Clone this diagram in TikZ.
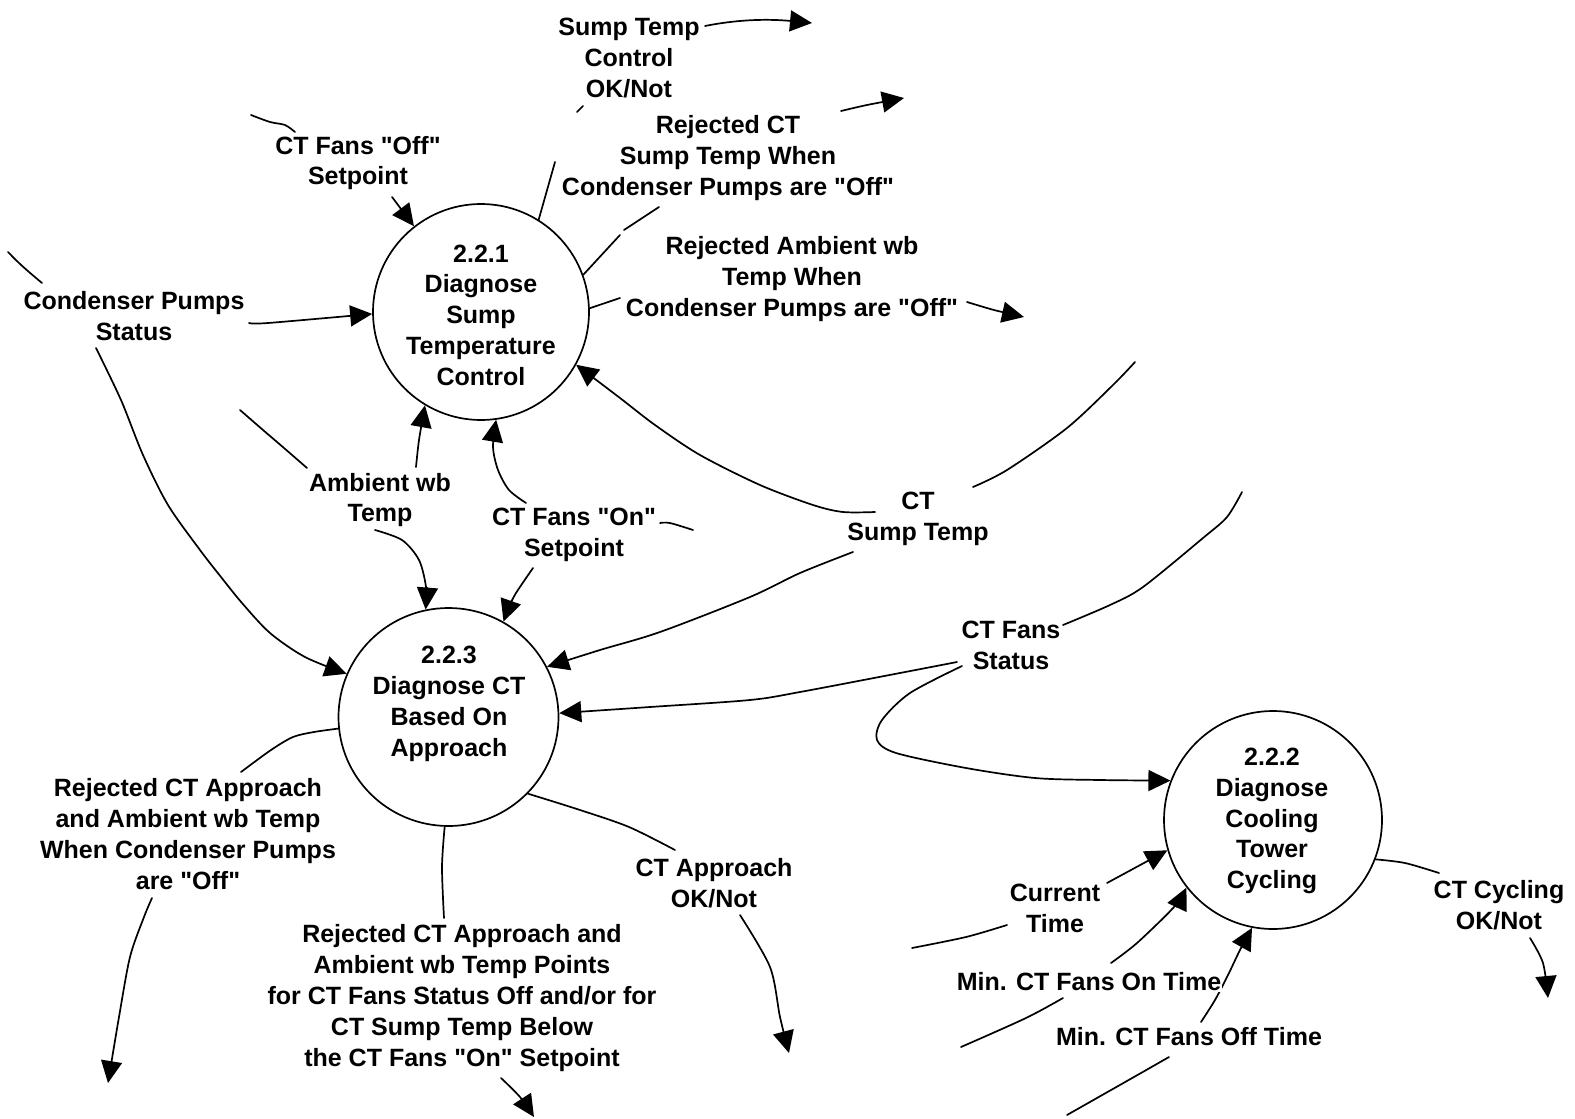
\documentclass[tikz,border=0pt]{standalone}
\usepackage{fontspec}
\setmainfont{Liberation Sans}[Ligatures=TeXOff]
\usetikzlibrary{arrows.meta,shapes.geometric}
\begin{document}
\begin{tikzpicture}[x=1pt,y=-1pt,
  ln/.style={line width=1.7pt, line join=round, line cap=round},
  arr/.style={ln, -{Triangle[length=22pt,width=21pt]}},
  proc/.style={draw, ellipse, line width=1.7pt, inner sep=0pt},
  lbl/.style={font=\fontsize{25}{30.8}\selectfont\bfseries, align=center, inner sep=0pt}]
\useasboundingbox (0,0) rectangle (1575,1119);
\fill[white] (0,0) rectangle (1575,1119);

% processes
\node[proc, minimum width=216pt, minimum height=216pt] (c1) at (481,312) {};
\node[proc, minimum width=220pt, minimum height=218pt] (c3) at (448.5,717) {};
\node[proc, minimum width=218pt, minimum height=218pt] (c2) at (1273,820) {};
\node[lbl] (t1) at (481,315) {2.2.1\\Diagnose\\Sump\\Temperature\\Control};
\node[lbl] (t3) at (449,704) {2.2.3\\Diagnose CT\\Based On\\Approach};
\node[lbl] (t2) at (1272,821) {2.2.2\\Diagnose\\Cooling\\Tower\\Cycling};

% labels
\node[lbl] (stc) at (629,58) {Sump Temp\\Control\\OK/Not};
\node[lbl] (off) at (358,163) {CT Fans "Off"\\Setpoint};
\node[lbl] (cps) at (134,316) {Condenser Pumps\\Status};
\node[lbl] (rcs) at (728,158) {Rejected CT\\Sump Temp When\\Condenser Pumps are "Off"};
\node[lbl] (rab) at (792,279) {Rejected Ambient wb\\Temp When\\Condenser Pumps are "Off"};
\node[lbl] (awb) at (380,500) {Ambient wb\\Temp};
\node[lbl] (on) at (574,535) {CT Fans "On"\\Setpoint};
\node[lbl] (cst) at (918,519) {CT\\Sump Temp};
\node[lbl] (cfs) at (1011,645) {CT Fans\\Status};
\node[lbl] (rca) at (188,834) {Rejected CT Approach\\and Ambient wb Temp\\When Condenser Pumps\\are "Off"};
\node[lbl] (rcb) at (462,998) {Rejected CT Approach and\\Ambient wb Temp Points\\for CT Fans Status Off and/or for\\CT Sump Temp Below\\the CT Fans "On" Setpoint};
\node[lbl] (cta) at (714,883) {CT Approach\\OK/Not};
\node[lbl] (cur) at (1055,908) {Current\\Time};
\node[lbl] (moff) at (1189,1037) {Min. CT Fans Off Time};
\node[lbl] (ccy) at (1499,905) {CT Cycling\\OK/Not};

% Sump Temp Control OK/Not
\coordinate (stcA) at (555,162);
\draw[ln] (c1.58.8) -- (stcA);
\coordinate (stcB) at (577,112); \coordinate (stcC) at (583,106);
\draw[ln] (stcB) -- (stcC);
\coordinate (stcD) at (705,26); \coordinate (stcE) at (812,23);
\draw[arr] (stcD) .. controls (740,19) and (770,19) .. (stcE);

% CT Fans Off setpoint
\draw[ln] plot[smooth] coordinates {(251,115) (270,122) (285,125) (295,132)};
\coordinate (offA) at (392,197);
\draw[arr] (offA) -- (c1.128);

% Condenser Pumps Status
\draw[ln] plot[smooth] coordinates {(8,252) (19,263) (29,272) (42,283)};
\draw[arr] plot[smooth] coordinates {(249,323) (268,323) (c1.181.6)};
\draw[arr] plot[smooth] coordinates {(96,348) (121,400) (143,455) (168,505) (200,550) (221,577) (242,603) (270,633) (305,657) (c3.157)};

% Rejected CT Sump Temp
\draw[ln] (c1.20) -- (620,235);
\draw[ln] (624,230) -- (659,207);
\draw[arr] plot[smooth] coordinates {(841,111) (867,105) (904,98)};

% Rejected Ambient wb
\draw[ln] (c1.2.6) -- (620,298);
\draw[arr] plot[smooth] coordinates {(967,302) (994,310) (1024,317)};

% Ambient wb Temp
\draw[ln] plot[smooth] coordinates {(240,410) (263,430) (284,448) (307,468)};
\draw[arr] plot[smooth] coordinates {(416,467) (419,440) (c1.239)};
\draw[arr] plot[smooth] coordinates {(375,530) (402,540) (419,560) (426,587) (c3.102)};

% CT Fans On setpoint
\draw[arr] plot[smooth] coordinates {(526,503) (509,490) (498,470) (493,447) (c1.-82)};
\draw[ln] plot[smooth] coordinates {(660,523) (670,523) (693,530)};
\draw[arr] plot[smooth] coordinates {(533,568) (516,593) (509,607) (c3.60)};

% CT Sump Temp
\draw[arr] plot[smooth] coordinates {(875,512) (843,512) (813,505) (760,485) (700,455) (655,425) (620,398) (c1.-29.6)};
\draw[ln] plot[smooth] coordinates {(973,487) (1007,470) (1067,428) (1113,385) (1135,362)};
\draw[arr] plot[smooth] coordinates {(853,552) (800,573) (750,597) (660,632) (600,650) (c3.27)};

% CT Fans Status
\draw[ln] plot[smooth] coordinates {(1063,625) (1110,605) (1143,587) (1203,538) (1227,517) (1242,492)};
\draw[arr] plot[smooth] coordinates {(957,662) (900,673) (800,692) (750,700) (650,707) (c3.2)};
\draw[arr] plot[smooth] coordinates {(962,666) (910,693) (882,720) (877,740) (896,753) (966,768) (1035,778) (1100,780) (c2.159)};

% 2.2.2 inputs / output
\draw[arr] (1107,883) -- (c2.196);
\draw[ln] plot[smooth] coordinates {(1007,925) (966,937) (912,948)};
\draw[arr] plot[smooth] coordinates {(1111,963) (1137,943) (1174,907) (c2.218)};
\draw[ln] plot[smooth] coordinates {(1063,998) (1026,1018) (961,1047)};
\draw[arr] plot[smooth] coordinates {(1201,1022) (1215,1000) (1228,975) (1240,950) (c2.259)};
\draw[ln] plot[smooth] coordinates {(1169,1057) (1141,1073) (1067,1115)};
\draw[ln] plot[smooth] coordinates {(c2.-21) (1405,863) (1439,873)};
\draw[arr] plot[smooth] coordinates {(1530,938) (1543,963) (1548,998)};

% 2.2.3 outputs
\draw[ln] plot[smooth] coordinates {(c3.186) (314,732) (293,737) (271,750) (241,772)};
\draw[arr] plot[smooth] coordinates {(152,898) (144,917) (130,957) (119,1017) (108,1083)};
\draw[ln] plot[smooth] coordinates {(c3.-92) (442,867) (444,918)};
\draw[arr] plot[smooth] coordinates {(501,1078) (520,1097) (534,1117)};
\draw[ln] plot[smooth] coordinates {(c3.-44.5) (580,810) (629,827) (675,850)};
\draw[arr] plot[smooth] coordinates {(740,915) (770,967) (780,1017) (789,1053)};

\node[lbl, fill=white, inner sep=1pt] (mon) at (1089,982) {Min. CT Fans On Time};
\end{tikzpicture}
\end{document}
